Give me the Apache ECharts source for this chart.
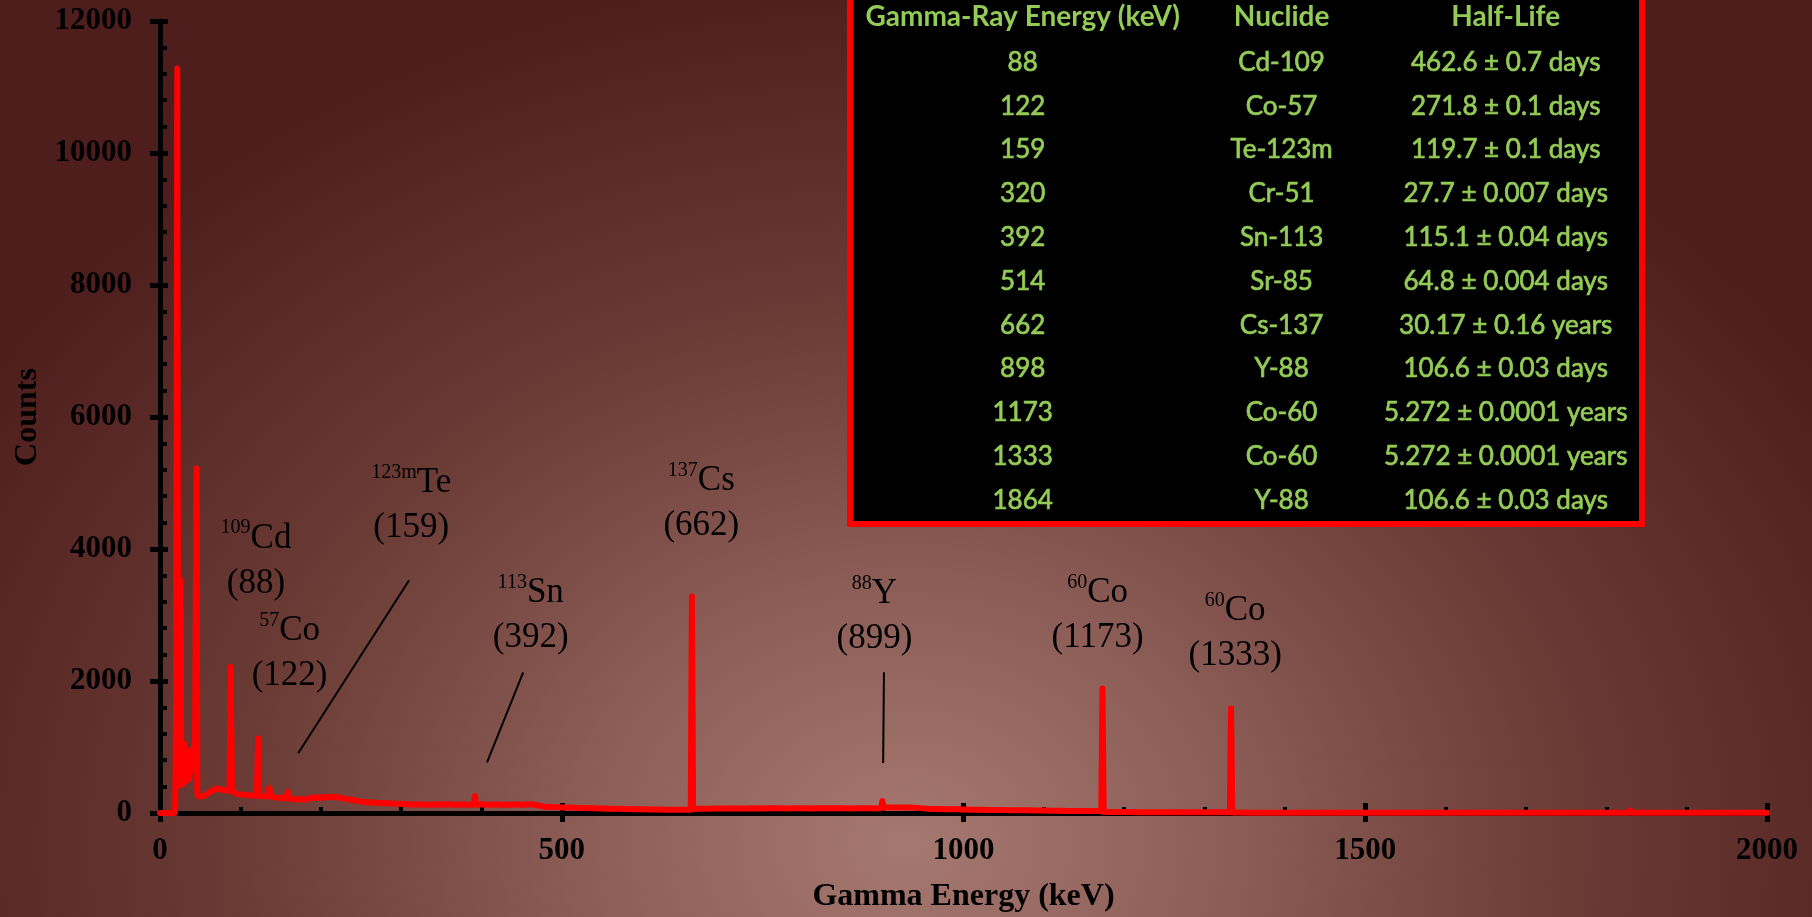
<!DOCTYPE html>
<html>
<head>
<meta charset="utf-8">
<title>Gamma Spectrum</title>
<script src="https://cdn.jsdelivr.net/npm/echarts@6/dist/echarts.min.js"></script>
<style>
  html, body { margin: 0; padding: 0; width: 100%; height: 100%; overflow: hidden; }
  body {
    background-color: #4b1a1a;
    background-image: radial-gradient(ellipse 60% 95% at 50% 92%,
      #a57870 0%, #8b5d56 30%, #6a3a35 62%, #4e1e1d 100%);
  }
  #chart { width: 1812px; height: 917px; }
</style>
</head>
<body>
<div id="chart"></div>
<script>
// Measured spectrum: [energy (keV), counts]
const spectrum = [
  [0, 0], [10, 0], [18, 0], [19, 120], [20, 1500], [21.5, 11280], [22.5, 1900], [23.5, 420],
  [24.5, 900], [25.5, 3520], [26.5, 760], [27.5, 430], [28.5, 820], [29.5, 520], [30.5, 1050],
  [31.5, 690], [32.5, 480], [33.5, 760], [34.5, 570], [35.5, 880], [36.5, 520], [37.5, 700],
  [38.5, 960], [39.5, 640], [40.5, 740], [41.5, 860], [42.5, 1000], [43.5, 800], [44.5, 820],
  [45.5, 5220], [46.5, 300], [48, 250], [50, 242], [55, 262], [60, 300], [65, 338], [70, 372],
  [75, 356], [80, 348], [84, 340], [86.5, 340], [88, 2212], [89.5, 330], [92, 318], [95, 290],
  [100, 282], [105, 276], [110, 270], [115, 266], [120.5, 262], [122, 1130], [123.5, 258],
  [125, 262], [130, 252], [134.5, 255], [136, 380], [137.5, 250], [140, 246], [145, 232],
  [150, 228], [157.5, 222], [159, 320], [160.5, 220], [165, 212], [170, 206], [175, 214],
  [180, 200], [185, 222], [190, 230], [195, 236], [200, 228], [205, 244], [210, 236], [215, 246],
  [220, 240], [225, 228], [230, 218], [235, 206], [240, 198], [245, 184], [250, 172], [255, 166],
  [260, 160], [265, 158], [270, 152], [275, 150], [280, 146], [285, 148], [290, 142], [295, 140],
  [300, 138], [305, 136], [310, 134], [315, 130], [320, 132], [325, 128], [330, 130], [335, 126],
  [340, 127], [345, 129], [350, 131], [355, 128], [360, 133], [365, 130], [370, 126], [375, 129],
  [380, 127], [385, 125], [390.5, 126], [392, 258], [393.5, 128], [396, 126], [400, 132],
  [405, 128], [410, 126], [415, 130], [420, 127], [425, 124], [430, 128], [435, 126], [440, 129],
  [445, 127], [450, 124], [455, 128], [460, 131], [465, 127], [470, 118], [475, 104], [480, 96],
  [485, 92], [490, 89], [495, 86], [500, 84], [510, 82], [520, 78], [530, 77], [540, 72],
  [550, 68], [560, 66], [570, 64], [580, 62], [590, 58], [600, 55], [610, 53], [620, 52],
  [630, 51], [640, 50], [650, 50], [660.5, 50], [662, 3280], [663.5, 62], [670, 64], [680, 66],
  [690, 68], [700, 67], [710, 68], [720, 70], [730, 69], [740, 71], [750, 70], [760, 72],
  [770, 71], [780, 70], [790, 72], [800, 71], [810, 70], [820, 72], [830, 71], [840, 72],
  [850, 71], [860, 70], [870, 72], [880, 71], [890, 70], [897.5, 72], [899, 182], [900.5, 84],
  [910, 84], [920, 82], [930, 83], [940, 80], [950, 70], [960, 62], [970, 60], [980, 58],
  [990, 55], [1000, 52], [1010, 50], [1020, 48], [1030, 46], [1040, 45], [1050, 44], [1060, 42],
  [1070, 40], [1080, 40], [1090, 38], [1100, 36], [1110, 35], [1120, 34], [1130, 32], [1140, 32],
  [1150, 30], [1160, 30], [1171.5, 30], [1173, 1885], [1174.5, 16], [1180, 15], [1190, 14],
  [1200, 14], [1220, 13], [1240, 12], [1260, 12], [1280, 11], [1300, 10], [1320, 10],
  [1331.5, 10], [1333, 1582], [1334.5, 6], [1340, 6], [1360, 5], [1380, 5], [1400, 5],
  [1450, 4], [1500, 4], [1550, 3], [1600, 3], [1650, 3], [1700, 3], [1750, 3], [1800, 3],
  [1828, 3], [1830, 40], [1832, 3], [1850, 2], [1900, 2], [1950, 2], [2000, 2]
];

// Peak annotations: isotope mass, element, labelled energy, label anchor [keV, counts]
const peakIsotopes = ['109', '57', '123m', '113', '137', '88', '60', '60'];
const peakElements = ['Cd', 'Co', 'Te', 'Sn', 'Cs', 'Y', 'Co', 'Co'];
const peakEnergies = ['88', '122', '159', '392', '662', '899', '1173', '1333'];
const labelAnchors = [
  [119.5, 3821], [161.3, 2420], [312.6, 4662], [461.4, 2988],
  [673.7, 4685], [889.2, 2980], [1166.9, 2995], [1338.1, 2720]
];
// Leader lines from labels down to small peaks: [[keV, counts], [keV, counts]]
const leaderLines = [
  [[310, 3526], [172, 905]],
  [[452, 2132], [407, 768]],
  [[901, 2132], [900, 758]]
];

// Reference table of calibration lines
const tableHeader = ['Gamma-Ray Energy (keV)', 'Nuclide', 'Half-Life'];
const tableEnergies = ['88', '122', '159', '320', '392', '514', '662', '898', '1173', '1333', '1864'];
const tableNuclides = ['Cd-109', 'Co-57', 'Te-123m', 'Cr-51', 'Sn-113', 'Sr-85', 'Cs-137',
  'Y-88', 'Co-60', 'Co-60', 'Y-88'];
const tableHalfLives = ['462.6 ± 0.7 days', '271.8 ± 0.1 days', '119.7 ± 0.1 days',
  '27.7 ± 0.007 days', '115.1 ± 0.04 days', '64.8 ± 0.004 days', '30.17 ± 0.16 years',
  '106.6 ± 0.03 days', '5.272 ± 0.0001 years', '5.272 ± 0.0001 years', '106.6 ± 0.03 days'];

const xTicks = { min: 0, max: 2000, interval: 500 };
const yTicks = { min: 0, max: 12000, interval: 2000 };

const serif = "'Liberation Serif', 'Times New Roman', serif";
const black = '#000000';

// Table layout
const tableBox = { x: 850, y: -10, width: 792, height: 534 };
const colCenters = [1022.7, 1281.6, 1505.7];
const headerY = 16.5;
const firstRowY = 62.4;
const rowStep = 43.8;
const tableGreen = '#93cb56';
const tableFont = "Lato, 'Open Sans', sans-serif";

function tableText(x, y, text, bold) {
  return {
    type: 'text', x: x, y: y, silent: true,
    style: {
      text: text, fill: tableGreen,
      font: (bold ? 'bold 28px ' : '26px ') + tableFont,
      stroke: tableGreen, lineWidth: bold ? 0 : 0.7,
      textAlign: 'center', textVerticalAlign: 'middle',
      align: 'center', verticalAlign: 'middle'
    }
  };
}

const tableGraphics = [{
  type: 'rect', silent: true,
  shape: tableBox,
  style: { fill: '#000000', stroke: '#ff0000', lineWidth: 6 }
}];
tableHeader.forEach((h, i) => tableGraphics.push(tableText(colCenters[i], headerY, h, true)));
tableEnergies.forEach((v, r) => {
  const y = firstRowY + r * rowStep;
  tableGraphics.push(tableText(colCenters[0], y, v, false));
  tableGraphics.push(tableText(colCenters[1], y, tableNuclides[r], false));
  tableGraphics.push(tableText(colCenters[2], y, tableHalfLives[r], false));
});

const tickStyle = { color: black, width: 5 };
const plainNumber = (v) => String(v);
const axisLabelStyle = { color: black, fontFamily: serif, fontWeight: 'bold', fontSize: 31, formatter: plainNumber };
const axisNameStyle = { color: black, fontFamily: serif, fontWeight: 'bold', fontSize: 32 };
const labelText = { fontFamily: serif, color: black, textBorderWidth: 0, textShadowBlur: 0 };

const chart = echarts.init(document.getElementById('chart'), null, { renderer: 'canvas' });
chart.setOption({
  backgroundColor: 'transparent',
  animation: false,
  grid: { left: 160, right: 45, top: 21, bottom: 104, containLabel: false, outerBoundsMode: 'none' },
  xAxis: [
    {
      type: 'value', position: 'bottom', ...xTicks,
      axisLine: { show: true, lineStyle: { color: black, width: 5 } },
      axisTick: { show: true, inside: true, length: 10, lineStyle: tickStyle },
      minorTick: { show: true, splitNumber: 5, length: 6, lineStyle: { color: black, width: 4 } },
      splitLine: { show: false },
      axisLabel: { ...axisLabelStyle, margin: 22 },
      name: 'Gamma Energy (keV)', nameLocation: 'middle', nameGap: 68,
      nameTextStyle: axisNameStyle
    },
    {
      type: 'value', position: 'bottom', ...xTicks,
      axisLine: { show: false },
      axisTick: { show: true, inside: false, length: 9, lineStyle: tickStyle },
      axisLabel: { show: false }, splitLine: { show: false }
    }
  ],
  yAxis: [
    {
      type: 'value', position: 'left', ...yTicks,
      axisLine: { show: true, lineStyle: { color: black, width: 5 } },
      axisTick: { show: true, inside: true, length: 8, lineStyle: tickStyle },
      minorTick: { show: true, splitNumber: 5, length: 7, lineStyle: { color: black, width: 4 } },
      splitLine: { show: false },
      axisLabel: { ...axisLabelStyle, margin: 28 },
      name: 'Counts', nameLocation: 'middle', nameGap: 112, nameRotate: 90,
      nameTextStyle: axisNameStyle
    },
    {
      type: 'value', position: 'left', ...yTicks,
      axisLine: { show: false },
      axisTick: { show: true, inside: false, length: 10, lineStyle: tickStyle },
      axisLabel: { show: false }, splitLine: { show: false }
    }
  ],
  series: [
    {
      name: 'Spectrum', type: 'line', xAxisIndex: 0, yAxisIndex: 0,
      data: spectrum, showSymbol: false, symbol: 'none', smooth: false,
      lineStyle: { color: '#ff0000', width: 6, join: 'round', cap: 'round' },
      z: 3, silent: true
    },
    {
      name: 'Peaks', type: 'scatter', xAxisIndex: 0, yAxisIndex: 0,
      data: labelAnchors, symbolSize: 0, silent: true, z: 4,
      label: {
        show: true, position: 'inside', align: 'center', verticalAlign: 'middle',
        color: black, textBorderWidth: 0, opacity: 1,
        formatter: (p) => '{sup|' + peakIsotopes[p.dataIndex] + '}{el|' + peakElements[p.dataIndex] +
          '}\n{num|(' + peakEnergies[p.dataIndex] + ')}',
        rich: {
          sup: { ...labelText, fontSize: 20, lineHeight: 45, verticalAlign: 'top', padding: [2, 0, 0, 0] },
          el: { ...labelText, fontSize: 35, lineHeight: 45 },
          num: { ...labelText, fontSize: 35, lineHeight: 45 }
        }
      },
      markLine: {
        silent: true, symbol: ['none', 'none'], animation: false,
        label: { show: false },
        lineStyle: { color: black, width: 2, type: 'solid', opacity: 1 },
        data: leaderLines.map(l => [{ coord: l[0] }, { coord: l[1] }])
      }
    }
  ],
  graphic: tableGraphics
});
</script>
</body>
</html>
